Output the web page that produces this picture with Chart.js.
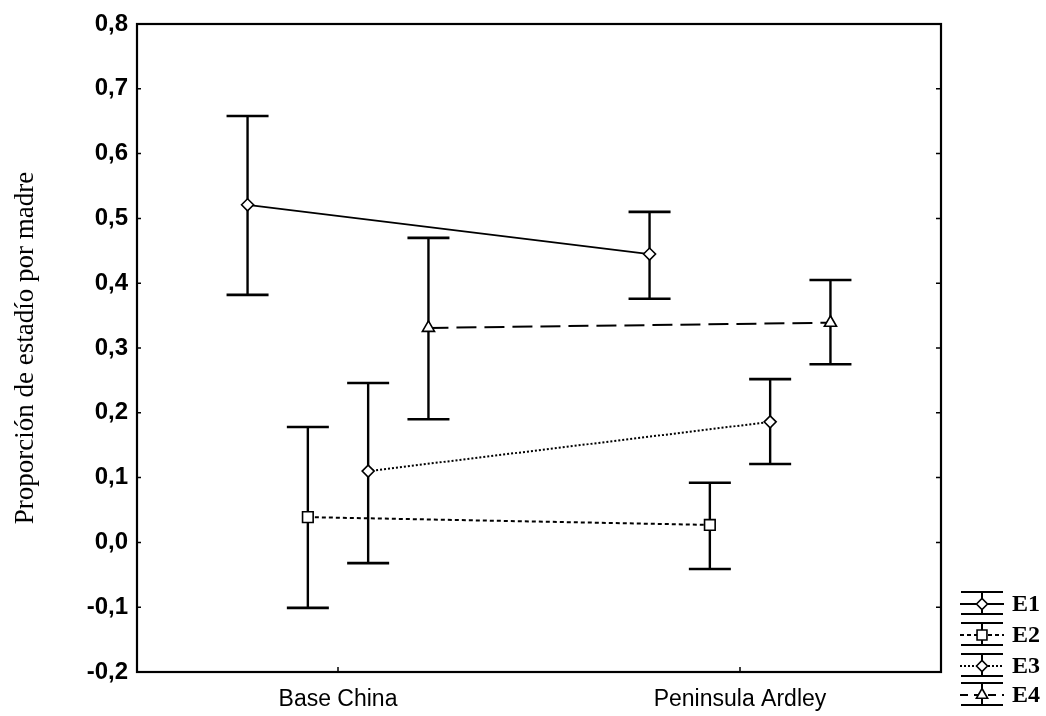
<!DOCTYPE html>
<html>
<head>
<meta charset="utf-8">
<script src="https://cdn.jsdelivr.net/npm/chart.js@4/dist/chart.umd.min.js"></script>
<style>
  html, body { margin: 0; padding: 0; background: #fff; }
  #wrap { width: 1046px; height: 716px; }
</style>
</head>
<body>
<div id="wrap"><canvas id="chart" width="1046" height="716"></canvas></div>
<script>
// Datos
const categories = ['Base China', 'Peninsula Ardley'];
const seriesNames = ['E1', 'E2', 'E3', 'E4'];
const seriesOffsets = [-0.225, -0.075, 0.075, 0.225]; // desplazamiento de cada serie respecto a la categoría

const e1Mean = [0.521, 0.445];
const e1Low  = [0.382, 0.376];
const e1High = [0.658, 0.510];

const e2Mean = [0.039, 0.027];
const e2Low  = [-0.101, -0.041];
const e2High = [0.178, 0.092];

const e3Mean = [0.110, 0.186];
const e3Low  = [-0.032, 0.121];
const e3High = [0.246, 0.252];

const e4Mean = [0.331, 0.339];
const e4Low  = [0.190, 0.275];
const e4High = [0.470, 0.405];

const yTicks = [-0.2, -0.1, 0.0, 0.1, 0.2, 0.3, 0.4, 0.5, 0.6, 0.7, 0.8];

const means = [e1Mean, e2Mean, e3Mean, e4Mean];
const lows = [e1Low, e2Low, e3Low, e4Low];
const highs = [e1High, e2High, e3High, e4High];

// Estilo de cada serie (línea y marcador)
const dashes = [[], [4, 3], [2, 2], [20, 8]];
const pointStyles = ['rectRot', 'rect', 'rectRot', 'triangle'];
const pointRadii = [6, 7.5, 6, 7];

const SANS = "'Liberation Sans', Arial, sans-serif";
const SERIF = "'Liberation Serif', 'Times New Roman', serif";

function fmt(v) {
    if (Math.abs(v) < 1e-9) return '0,0';
    return v.toFixed(1).replace('.', ',');
}

const datasets = seriesNames.map((name, s) => ({
    label: name,
    data: categories.map((c, i) => ({ x: i + seriesOffsets[s], y: means[s][i] })),
    borderColor: '#000',
    borderWidth: s === 0 ? 1.8 : 2,
    borderDash: dashes[s],
    pointStyle: pointStyles[s],
    pointRadius: pointRadii[s],
    pointBackgroundColor: '#fff',
    pointBorderColor: '#000',
    pointBorderWidth: 1.6,
    fill: false,
    tension: 0
}));

// Barras de error, marco, marcas de los ejes y leyenda
const errorBars = {
    id: 'errorBars',
    beforeDatasetsDraw(chart) {
        const { ctx, scales: { x, y } } = chart;
        ctx.save();
        ctx.strokeStyle = '#000';
        ctx.setLineDash([]);
        seriesNames.forEach((name, s) => {
            categories.forEach((c, i) => {
                const px = x.getPixelForValue(i + seriesOffsets[s]);
                const top = y.getPixelForValue(highs[s][i]);
                const bot = y.getPixelForValue(lows[s][i]);
                ctx.lineWidth = 2.4;
                ctx.beginPath();
                ctx.moveTo(px, top);
                ctx.lineTo(px, bot);
                ctx.stroke();
                ctx.lineWidth = 2.6;
                ctx.beginPath();
                ctx.moveTo(px - 21, top);
                ctx.lineTo(px + 21, top);
                ctx.moveTo(px - 21, bot);
                ctx.lineTo(px + 21, bot);
                ctx.stroke();
            });
        });
        ctx.restore();
    },
    afterDraw(chart) {
        const { ctx, chartArea: a, scales: { x, y } } = chart;
        ctx.save();
        ctx.strokeStyle = '#000';
        ctx.setLineDash([]);
        // marco
        ctx.lineWidth = 2.2;
        ctx.strokeRect(a.left, a.top, a.right - a.left, a.bottom - a.top);
        // marcas hacia dentro
        ctx.lineWidth = 1.5;
        ctx.beginPath();
        yTicks.forEach(v => {
            const py = y.getPixelForValue(v);
            ctx.moveTo(a.left, py); ctx.lineTo(a.left + 4, py);
            ctx.moveTo(a.right, py); ctx.lineTo(a.right - 5, py);
        });
        categories.forEach((c, i) => {
            const px = x.getPixelForValue(i);
            ctx.moveTo(px, a.bottom); ctx.lineTo(px, a.bottom - 5);
        });
        ctx.stroke();

        // leyenda propia con símbolo de barra de error
        const cx = a.right + 41;
        const legendY = [604, 635, 666, 695];
        ctx.font = 'bold 24px ' + SERIF;
        ctx.textBaseline = 'middle';
        ctx.textAlign = 'left';
        seriesNames.forEach((name, s) => {
            const ly = legendY[s];
            ctx.setLineDash([]);
            ctx.lineWidth = 2;
            ctx.beginPath();
            ctx.moveTo(cx - 21, ly - 12); ctx.lineTo(cx + 21, ly - 12);
            ctx.moveTo(cx - 21, ly + 10); ctx.lineTo(cx + 21, ly + 10);
            ctx.moveTo(cx, ly - 12); ctx.lineTo(cx, ly + 10);
            ctx.stroke();
            ctx.setLineDash(s === 3 ? [8, 6] : dashes[s]);
            ctx.lineWidth = 2;
            ctx.beginPath();
            ctx.moveTo(cx - 22, ly); ctx.lineTo(cx + 22, ly);
            ctx.stroke();
            ctx.setLineDash([]);
            ctx.fillStyle = '#fff';
            ctx.lineWidth = 1.6;
            Chart.helpers.drawPoint(ctx, {
                pointStyle: pointStyles[s],
                radius: pointRadii[s] - 0.5,
                borderWidth: 1.6
            }, cx, ly);
            ctx.fillStyle = '#000';
            ctx.fillText(name, cx + 30, ly + 1);
        });
        ctx.restore();
    }
};

new Chart(document.getElementById('chart').getContext('2d'), {
    type: 'line',
    data: { datasets },
    options: {
        responsive: false,
        animation: false,
        layout: { padding: { left: 0, top: 24, right: 105, bottom: 4 } },
        plugins: {
            legend: { display: false },
            tooltip: { enabled: false }
        },
        scales: {
            x: {
                type: 'linear',
                min: -0.5,
                max: 1.5,
                afterBuildTicks: scale => { scale.ticks = categories.map((c, i) => ({ value: i })); },
                afterFit: scale => { scale.height = 40; },
                border: { display: false },
                grid: { display: false },
                ticks: {
                    padding: 6,
                    color: '#000',
                    font: { family: SANS, size: 23 },
                    callback: v => categories[v]
                }
            },
            y: {
                type: 'linear',
                min: -0.2,
                max: 0.8,
                afterBuildTicks: scale => { scale.ticks = yTicks.map(v => ({ value: v })); },
                afterFit: scale => { scale.width = 137; },
                border: { display: false },
                grid: { display: false },
                ticks: {
                    padding: 1,
                    color: '#000',
                    font: { family: SANS, size: 24, weight: 'bold' },
                    callback: v => fmt(v)
                },
                title: {
                    display: true,
                    text: 'Proporción de estadío por madre',
                    color: '#000',
                    font: { family: SERIF, size: 27 },
                    padding: { top: 10, bottom: 0 }
                }
            }
        }
    },
    plugins: [errorBars]
});
</script>
</body>
</html>
